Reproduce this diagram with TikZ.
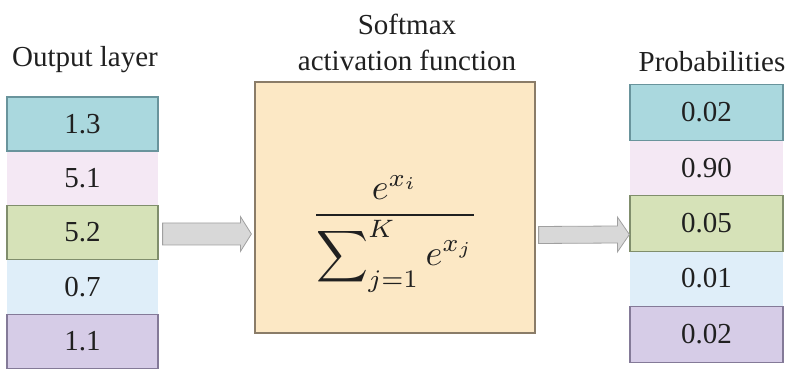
\documentclass[tikz,border=0pt]{standalone}
\usepackage{fontspec}
\setmainfont{Liberation Serif}
\usetikzlibrary{calc}
\definecolor{cteal}{RGB}{170,216,222}
\definecolor{bteal}{RGB}{105,148,156}
\definecolor{cpink}{RGB}{244,232,244}
\definecolor{cgreen}{RGB}{214,226,184}
\definecolor{bgreen}{RGB}{128,142,108}
\definecolor{cblue}{RGB}{223,238,249}
\definecolor{clav}{RGB}{214,204,231}
\definecolor{blav}{RGB}{132,122,152}
\definecolor{cpeach}{RGB}{252,232,197}
\definecolor{bpeach}{RGB}{138,124,104}
\definecolor{carrow}{RGB}{216,216,216}
\definecolor{barrow}{RGB}{160,160,160}
\definecolor{ctext}{RGB}{32,32,32}
\begin{document}
\begin{tikzpicture}[x=1pt,y=-1pt,
  txt/.style={font=\fontsize{29}{34}\selectfont,text=ctext},
  cell/.style={txt,minimum height=#1,inner sep=0pt,anchor=center},
  lcell/.style={cell=54pt,minimum width=151pt},
  rcell/.style={cell=55.4pt,minimum width=153pt},
  bord/.style={draw=#1,line width=1.2pt},
  blockarrow/.style={fill=carrow,draw=barrow,line width=0.8pt,line join=miter}]
\useasboundingbox (0,0) rectangle (785,371);
% left column
\node[lcell,fill=cpink] (l2) at (82.5,178) {5.1};
\node[lcell,fill=cblue] (l4) at (82.5,287) {0.7};
\node[lcell,fill=cteal,bord=bteal] (l1) at (82.5,124) {1.3};
\node[lcell,fill=cgreen,bord=bgreen] (l3) at (82.5,232.5) {5.2};
\node[lcell,fill=clav,bord=blav] (l5) at (82.5,341.5) {1.1};
\node[txt] (tl) at (85,60) {Output layer};
% right column
\node[rcell,fill=cpink] (r2) at (706.5,168.5) {0.90};
\node[rcell,fill=cblue] (r4) at (706.5,278.5) {0.01};
\node[rcell,fill=cteal,bord=bteal] (r1) at (706.5,112.5) {0.02};
\node[rcell,fill=cgreen,bord=bgreen] (r3) at (706.5,223.5) {0.05};
\node[rcell,fill=clav,bord=blav] (r5) at (706.5,334.5) {0.02};
\node[txt] (tr) at (712,62) {Probabilities};
% softmax box
\node[fill=cpeach,draw=bpeach,line width=1.2pt,minimum width=280pt,minimum height=251pt,inner sep=0pt] (sm) at (395,207.5) {};
\node[txt,align=center] (ts) at (407,42) {Softmax\\[2pt]activation function};
\node[text=ctext,scale=3.6] (f) at (395,234)
  {$\displaystyle\frac{e^{x_i}}{\displaystyle\sum\nolimits_{j=1}^{K} e^{x_j}}$};
% arrows
\coordinate (a1s) at ($(l3.east)+(4,1.5)$);
\coordinate (a1t) at ($(sm.west)+(-3,26.5)$);
\draw[blockarrow] ($(a1s)+(0,-11)$) -- ($(a1t)+(-11,-11)$) -- ($(a1t)+(-11,-17.5)$) -- (a1t)
  -- ($(a1t)+(-11,17.5)$) -- ($(a1t)+(-11,11)$) -- ($(a1s)+(0,11)$) -- cycle;
\coordinate (a2s) at ($(sm.east)+(3,27.5)$);
\coordinate (a2t) at ($(r3.west)+(0,11)$);
\draw[blockarrow] ($(a2s)+(0,-8.5)$) -- ($(a2t)+(-12,-8.5)$) -- ($(a2t)+(-12,-17.5)$) -- (a2t)
  -- ($(a2t)+(-12,17.5)$) -- ($(a2t)+(-12,8.5)$) -- ($(a2s)+(0,8.5)$) -- cycle;
\end{tikzpicture}
\end{document}
